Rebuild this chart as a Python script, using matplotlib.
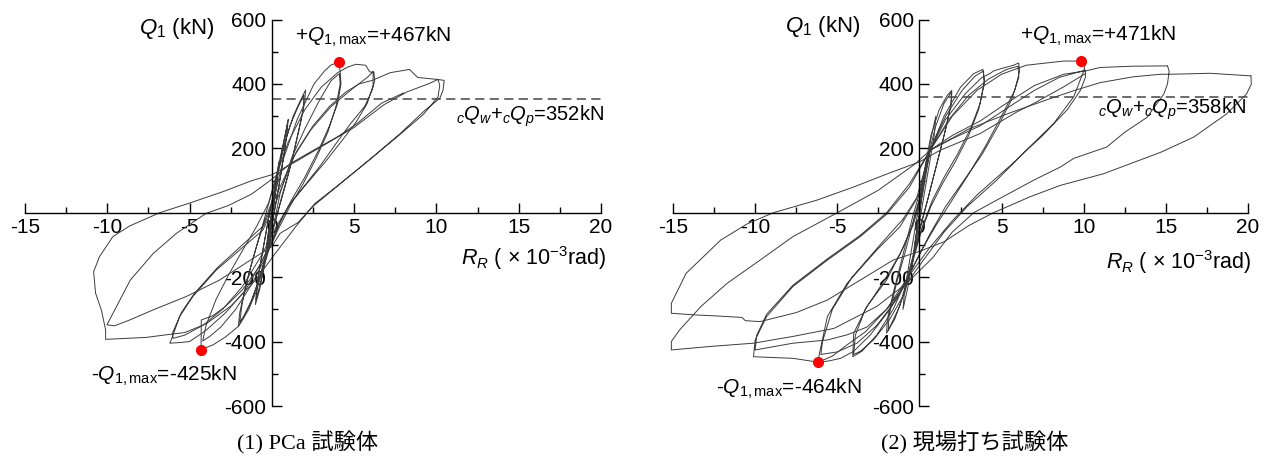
import matplotlib
matplotlib.use("Agg")
import matplotlib.pyplot as plt
from matplotlib.ticker import MultipleLocator

plt.rcParams['font.family'] = ['Liberation Sans', 'DejaVu Sans']
plt.rcParams['mathtext.fontset'] = 'custom'
plt.rcParams['mathtext.rm'] = 'Liberation Sans'
plt.rcParams['mathtext.it'] = 'Liberation Sans:italic'
plt.rcParams['axes.unicode_minus'] = False

# --- measured Q1 - R_R hysteresis, (R_R x1e-3 rad, Q1 kN) ---
# (1) PCa specimen
pca_qmax_pos = (4.05, 467)
pca_qmax_neg = (-4.3, -425)
pca_q_design = 352

pca_loop_05 = [(0, 0), (0.2, 70), (0.45, 160), (0.35, 110), (0.1, 20), (-0.15, -60), (-0.4, -150),
               (-0.3, -100), (-0.05, -10), (0.15, 60), (0.4, 150), (0.3, 90), (0.05, 0),
               (-0.2, -80), (-0.42, -155), (-0.25, -70), (0, 0)]
pca_loop_1 = [(0, 0), (0.3, 100), (0.65, 200), (0.95, 280), (1.0, 290), (0.85, 220), (0.55, 120),
              (0.25, 30), (-0.05, -50), (-0.4, -150), (-0.75, -240), (-1.0, -285), (-0.9, -220),
              (-0.6, -130), (-0.25, -30), (0.1, 60), (0.5, 170), (0.85, 250), (0.95, 275),
              (0.8, 200), (0.45, 90), (0.1, -10), (-0.3, -120), (-0.7, -220), (-0.95, -270),
              (-0.8, -190), (-0.45, -90), (-0.1, 10)]
pca_loop_2 = [(-0.1, 10), (0.3, 110), (0.8, 220), (1.3, 300), (1.7, 345), (2.05, 381), (2.0, 345),
              (1.75, 280), (1.4, 200), (1.0, 120), (0.6, 50), (0.2, -30), (-0.3, -120),
              (-0.8, -210), (-1.3, -280), (-1.7, -325), (-2.04, -353), (-1.95, -310),
              (-1.65, -240), (-1.25, -160), (-0.8, -80), (-0.35, 0), (0.1, 80), (0.6, 180),
              (1.1, 270), (1.6, 330), (1.95, 365), (1.9, 320), (1.6, 250), (1.2, 160), (0.8, 80),
              (0.35, 0), (-0.1, -80), (-0.6, -180), (-1.2, -270), (-1.7, -320), (-1.95, -340),
              (-1.8, -280), (-1.4, -190), (-0.9, -100), (-0.4, -20)]
pca_loop_4 = [(-0.4, -20), (0.2, 60), (0.72, 170), (1.54, 290), (2.56, 400), (3.2, 440),
              (3.6, 459), (4.05, 467), (4.15, 440), (4.2, 400), (4.0, 340), (3.5, 270),
              (2.8, 190), (2.0, 110), (1.2, 40), (0.5, -30), (0, -90), (-0.8, -170),
              (-1.8, -240), (-2.8, -290), (-3.6, -320), (-4.29, -333), (-4.3, -425),
              (-3.57, -410), (-2.8, -385), (-2.04, -353), (-1.4, -300), (-0.92, -240),
              (-0.3, -136), (0.1, -40), (0.5, 60), (1.2, 170), (2.0, 260), (2.9, 350),
              (3.6, 410), (4.1, 432), (4.15, 400), (3.9, 330), (3.4, 250), (2.7, 170),
              (1.9, 90), (1.1, 20), (0.4, -50), (-0.3, -130), (-1.2, -220), (-2.2, -300),
              (-3.1, -355), (-3.8, -385), (-4.2, -398), (-4.0, -350), (-3.4, -270),
              (-2.6, -190), (-1.7, -110), (-0.9, -40), (-0.2, 30)]
pca_loop_6 = [(-0.2, 30), (0.3, 120), (1.0, 220), (2.0, 320), (3.0, 390), (4.0, 435),
              (4.6, 452), (5.1, 461), (5.7, 458), (5.95, 437), (6.2, 437), (6.25, 410),
              (6.1, 381), (5.64, 330), (4.8, 278), (3.9, 215), (3.0, 150), (2.0, 85),
              (1.0, 20), (0.2, -60), (-0.6, -150), (-1.6, -240), (-2.8, -310), (-4.0, -365),
              (-5.0, -400), (-5.6, -403), (-6.2, -405), (-6.1, -393), (-5.6, -322),
              (-4.8, -260), (-3.38, -178), (-1.96, -116), (-0.55, -54), (0.3, 39), (1.33, 174),
              (2.36, 257), (3.6, 330), (4.8, 381), (5.84, 422), (6.15, 438), (6.15, 395),
              (5.8, 340), (5.1, 280), (4.2, 220), (3.2, 155), (2.2, 95), (1.2, 35), (0.3, -40),
              (-0.6, -130), (-1.8, -230), (-3.0, -300), (-4.2, -350), (-5.3, -380),
              (-6.0, -390), (-6.05, -375), (-5.5, -310), (-4.7, -250), (-3.3, -170),
              (-1.9, -105), (-0.5, -40)]
pca_loop_10 = [(-0.5, -40), (0.5, 80), (1.5, 190), (2.5, 270), (3.5, 330), (4.5, 375),
               (5.3, 400), (6.1, 411), (7.2, 435), (8.36, 445), (8.86, 420), (10.05, 414),
               (10.47, 411), (10.4, 380), (10.2, 355), (9.3, 318), (7.8, 246), (5.9, 163),
               (3.9, 80), (2.6, 28), (1.5, -40), (0.3, -120), (-1.0, -210), (-2.5, -290),
               (-4.0, -345), (-5.3, -372), (-6.42, -379), (-7.63, -387), (-9.25, -391),
               (-10.1, -393), (-10.1, -364), (-10.36, -302), (-10.71, -250), (-10.83, -183),
               (-10.47, -136), (-9.66, -74), (-8.64, -41), (-6.82, 0), (-5.0, 30), (-3.0, 65),
               (-1.2, 100), (0, 118), (1.5, 160), (3.0, 205), (5.0, 265), (6.8, 335),
               (8.2, 375), (9.5, 400), (10.1, 414), (10.2, 395), (10.1, 360), (9.2, 305),
               (7.6, 235), (5.7, 155), (3.8, 75), (2.5, 20), (1.6, -30), (0.5, -64), (0, -105),
               (-1.15, -142), (-3.18, -209), (-5.2, -260), (-7.23, -302), (-8.64, -333),
               (-9.55, -351), (-10.02, -348), (-9.55, -302), (-8.6, -209), (-7.2, -126),
               (-5.8, -64), (-4.0, -2), (-2.66, 22), (-1.23, 58), (0, 104), (1.13, 153),
               (2.56, 195), (4.0, 236), (5.2, 278), (6.66, 340), (8.0, 372)]

# (2) cast-in-place specimen
fc_qmax_pos = (9.86, 471)
fc_qmax_neg = (-6.15, -464)
fc_q_design = 358

fc_loop_05 = [(0, 0), (0.2, 80), (0.45, 170), (0.3, 100), (0.05, 10), (-0.2, -70), (-0.45, -170),
              (-0.3, -100), (0, 0)]
fc_loop_1 = [(0, 0), (0.3, 110), (0.7, 230), (1.0, 300), (0.9, 240), (0.6, 150), (0.3, 60),
             (0, -30), (-0.35, -130), (-0.7, -230), (-1.0, -300), (-0.9, -240), (-0.6, -150),
             (-0.3, -60), (0, 30)]
fc_loop_2 = [(0, 30), (0.3, 130), (0.7, 240), (1.2, 320), (1.7, 365), (1.97, 380), (1.95, 340),
             (1.6, 260), (1.2, 180), (0.8, 100), (0.4, 20), (0, -60), (-0.5, -170),
             (-1.0, -260), (-1.5, -330), (-2.0, -374), (-1.95, -330), (-1.6, -250),
             (-1.2, -170), (-0.8, -90), (-0.4, -10), (0, 60), (0.5, 170), (1.0, 270),
             (1.5, 340), (1.95, 375), (1.9, 330), (1.5, 240), (1.0, 140), (0.5, 40), (0, -50),
             (-0.6, -180), (-1.2, -290), (-1.9, -365), (-1.85, -320), (-1.4, -220),
             (-0.8, -110), (-0.3, -10)]
fc_loop_4 = [(-0.3, -10), (0.2, 80), (0.65, 194), (1.5, 300), (2.5, 390), (3.3, 432),
             (3.86, 445), (3.95, 410), (3.7, 340), (3.1, 260), (2.3, 180), (1.5, 110),
             (0.8, 40), (0.2, -40), (-0.3, -120), (-0.8, -210), (-1.6, -300), (-2.6, -380),
             (-3.5, -430), (-4.06, -447), (-4.0, -374), (-3.2, -291), (-2.0, -209),
             (-1.0, -110), (-0.3, -20), (0.2, 80), (0.65, 194), (1.6, 300), (2.6, 380),
             (3.4, 425), (3.9, 440), (3.95, 400), (3.6, 320), (3.0, 240), (2.2, 160),
             (1.4, 90), (0.7, 20), (0.1, -60), (-0.4, -150), (-0.9, -250), (-1.8, -330),
             (-2.8, -395), (-3.6, -430), (-4.0, -440), (-3.9, -380), (-3.3, -300),
             (-2.2, -215), (-1.2, -130), (-0.4, -40)]
fc_loop_6 = [(-0.4, -40), (0.2, 60), (0.65, 194), (1.6, 290), (2.8, 370), (3.8, 420), (4.3, 432),
             (4.5, 440), (5.0, 448), (5.73, 458), (6.04, 465), (6.1, 440), (5.8, 380),
             (5.0, 300), (4.0, 205), (3.0, 120), (2.0, 40), (1.0, -40), (0.2, -110),
             (-0.7, -200), (-1.8, -300), (-3.0, -380), (-4.0, -430), (-4.8, -452),
             (-5.5, -460), (-6.15, -464), (-6.1, -440), (-5.6, -322), (-4.4, -219),
             (-2.6, -116), (-1.18, -43), (-0.2, 40), (0.65, 194), (1.8, 290), (3.0, 365),
             (4.2, 415), (5.3, 445), (6.0, 455), (6.05, 420), (5.6, 350), (4.8, 270),
             (3.8, 180), (2.7, 100), (1.6, 20), (0.6, -70), (-0.3, -160), (-1.4, -270),
             (-2.6, -350), (-3.8, -405), (-5.0, -432), (-6.0, -440), (-5.9, -400),
             (-5.3, -300), (-4.1, -200), (-2.4, -100), (-1.0, -20)]
fc_loop_10 = [(-1.0, -20), (0, 60), (0.65, 194), (2.0, 300), (3.5, 380), (5.0, 430), (6.5, 458),
              (8.78, 471), (9.86, 471), (10.1, 463), (10.0, 440), (9.39, 360), (8.17, 277),
              (6.5, 194), (4.7, 101), (2.9, 19), (1.5, -60), (0.2, -150), (-0.77, -219),
              (-2.0, -300), (-3.3, -370), (-4.4, -410), (-5.3, -445), (-6.15, -464),
              (-7.7, -452), (-10.1, -447), (-10.0, -395), (-9.3, -322), (-7.7, -229),
              (-5.6, -147), (-3.6, -74), (-2.0, -5), (-0.6, 80), (0.65, 194), (2.0, 230),
              (3.7, 270), (5.5, 330), (7.0, 380), (8.5, 420), (10.1, 443), (10.1, 420),
              (9.8, 380), (9.0, 320), (7.5, 240), (5.5, 145), (3.5, 55), (2.0, -25),
              (0.6, -110), (-0.7, -200), (-2.0, -300), (-3.2, -355), (-4.4, -379),
              (-5.6, -395), (-7.7, -405), (-10.0, -426), (-9.9, -380), (-9.3, -315),
              (-7.7, -225), (-5.6, -143), (-3.6, -70), (-2.0, 0), (-0.6, 90), (0.65, 194),
              (2.0, 240), (3.7, 285), (5.0, 330), (7.0, 395), (8.78, 430), (10.1, 440),
              (11.0, 451), (13.0, 455), (15.1, 456)]
fc_loop_15 = [(15.1, 456), (15.2, 440), (15.1, 400), (14.87, 368), (13.85, 296), (12.5, 250),
              (11.4, 204), (9.4, 169), (8.58, 142), (6.95, 101), (4.7, 39), (3.3, 0),
              (2.0, -60), (0.8, -140), (-0.77, -219), (-2.6, -291), (-5.2, -359),
              (-7.7, -384), (-10.1, -405), (-12.7, -415), (-15.1, -426), (-15.1, -400),
              (-14.6, -364), (-13.3, -291), (-11.7, -219), (-9.7, -147), (-7.7, -74),
              (-5.0, 0), (-2.5, 70), (-0.3, 150), (0.65, 194), (3.0, 260), (5.5, 310),
              (8.0, 355), (9.4, 379), (11.0, 404), (13.0, 422), (14.67, 430), (15.27, 430),
              (17.7, 433), (20.18, 425)]
fc_loop_20 = [(20.18, 425), (20.2, 399), (19.9, 368), (18.7, 307), (16.7, 235), (14.7, 188),
              (11.2, 121), (8.58, 85), (6.75, 50), (4.5, 0), (3.0, -40), (1.5, -90),
              (0, -120), (-1.6, -147), (-3.6, -209), (-5.6, -271), (-7.5, -310),
              (-9.7, -338), (-10.6, -335), (-10.8, -325), (-12.5, -320), (-13.75, -317),
              (-15.1, -312), (-15.1, -281), (-14.2, -188), (-12.1, -85), (-10.5, -35),
              (-8.9, 0), (-6.25, 39), (-4.0, 80), (-2.0, 120), (0, 158), (1.26, 194),
              (3.7, 246), (5.93, 313), (6.95, 339), (8.78, 391), (10.1, 432)]

panels = [
    dict(loops=[pca_loop_05, pca_loop_1, pca_loop_2, pca_loop_4, pca_loop_6, pca_loop_10],
         qpos=pca_qmax_pos, qneg=pca_qmax_neg, qd=pca_q_design,
         title="(1) PCa 試験体", pos=[25 / 1271, 53 / 459, 576 / 1271, 386.5 / 459],
         t_q=(-3.5, 572), t_pos=(1.4, 547), t_neg=(-11.0, -505), t_qd=(11.2, 300),
         t_r=(20.3, -142), t_title=308),
    dict(loops=[fc_loop_05, fc_loop_1, fc_loop_2, fc_loop_4, fc_loop_6, fc_loop_10,
                fc_loop_15, fc_loop_20],
         qpos=fc_qmax_pos, qneg=fc_qmax_neg, qd=fc_q_design,
         title="(2) 現場打ち試験体", pos=[673 / 1271, 53 / 459, 575 / 1271, 386.5 / 459],
         t_q=(-3.6, 577), t_pos=(6.15, 548), t_neg=(-12.4, -546), t_qd=(10.9, 321),
         t_r=(20.2, -152), t_title=975),
]

fig = plt.figure(figsize=(12.71, 4.59), dpi=100)

for p in panels:
    ax = fig.add_axes(p["pos"])
    for loop in p["loops"]:
        r = [pt[0] for pt in loop]
        q = [pt[1] for pt in loop]
        ax.plot(r, q, color="#3c3c3c", lw=0.7, zorder=2, clip_on=False)
    ax.plot([0, 20], [p["qd"], p["qd"]], color="#444444", lw=1.1, ls=(0, (6, 3.5)), zorder=2)
    ax.plot(*p["qpos"], "o", color="#ff0000", ms=7, zorder=4, clip_on=False)
    ax.plot(*p["qneg"], "o", color="#ff0000", ms=7, zorder=4, clip_on=False)

    ax.set_xlim(-15, 20)
    ax.set_ylim(-600, 600)
    for s in ["top", "right"]:
        ax.spines[s].set_visible(False)
    ax.spines["left"].set_position(("data", 0))
    ax.spines["bottom"].set_position(("data", 0))
    ax.spines["left"].set_linewidth(1.0)
    ax.spines["bottom"].set_linewidth(1.0)
    ax.set_xticks(range(-15, 21, 5))
    ax.xaxis.set_minor_locator(MultipleLocator(2.5))
    ax.set_yticks([-600, -400, -200, 200, 400, 600])
    ax.yaxis.set_minor_locator(MultipleLocator(100))
    ax.tick_params(which="both", direction="in", labelsize=15, width=1.0)
    ax.tick_params(which="major", length=7, pad=4)
    ax.tick_params(which="minor", length=4)
    ax.patch.set_visible(False)

    ax.text(*p["t_q"], r"$Q_1$ (kN)", fontsize=16, ha="right", va="center")
    qp = p["qpos"][1]
    qn = p["qneg"][1]
    ax.text(*p["t_pos"], r"+$Q_{1,\mathrm{max}}$=+%dkN" % qp, fontsize=15, ha="left", va="center")
    ax.text(*p["t_neg"], r"-$Q_{1,\mathrm{max}}$=%dkN" % qn, fontsize=15, ha="left", va="center")
    ax.text(*p["t_qd"], r"${}_{c}Q_{w}$+${}_{c}Q_{p}$=%dkN" % p["qd"], fontsize=14.5,
            ha="left", va="center")
    ax.text(*p["t_r"], r"$R_R$ ( $\times$ 10$^{-3}$rad)", fontsize=15.5, ha="right", va="center")

    fig.text(p["t_title"] / 1271, 1 - 443 / 459, p["title"], fontsize=16,
             family=["Liberation Serif", "Noto Sans CJK JP"], ha="center", va="center")

fig.savefig("out.png", dpi=100)
